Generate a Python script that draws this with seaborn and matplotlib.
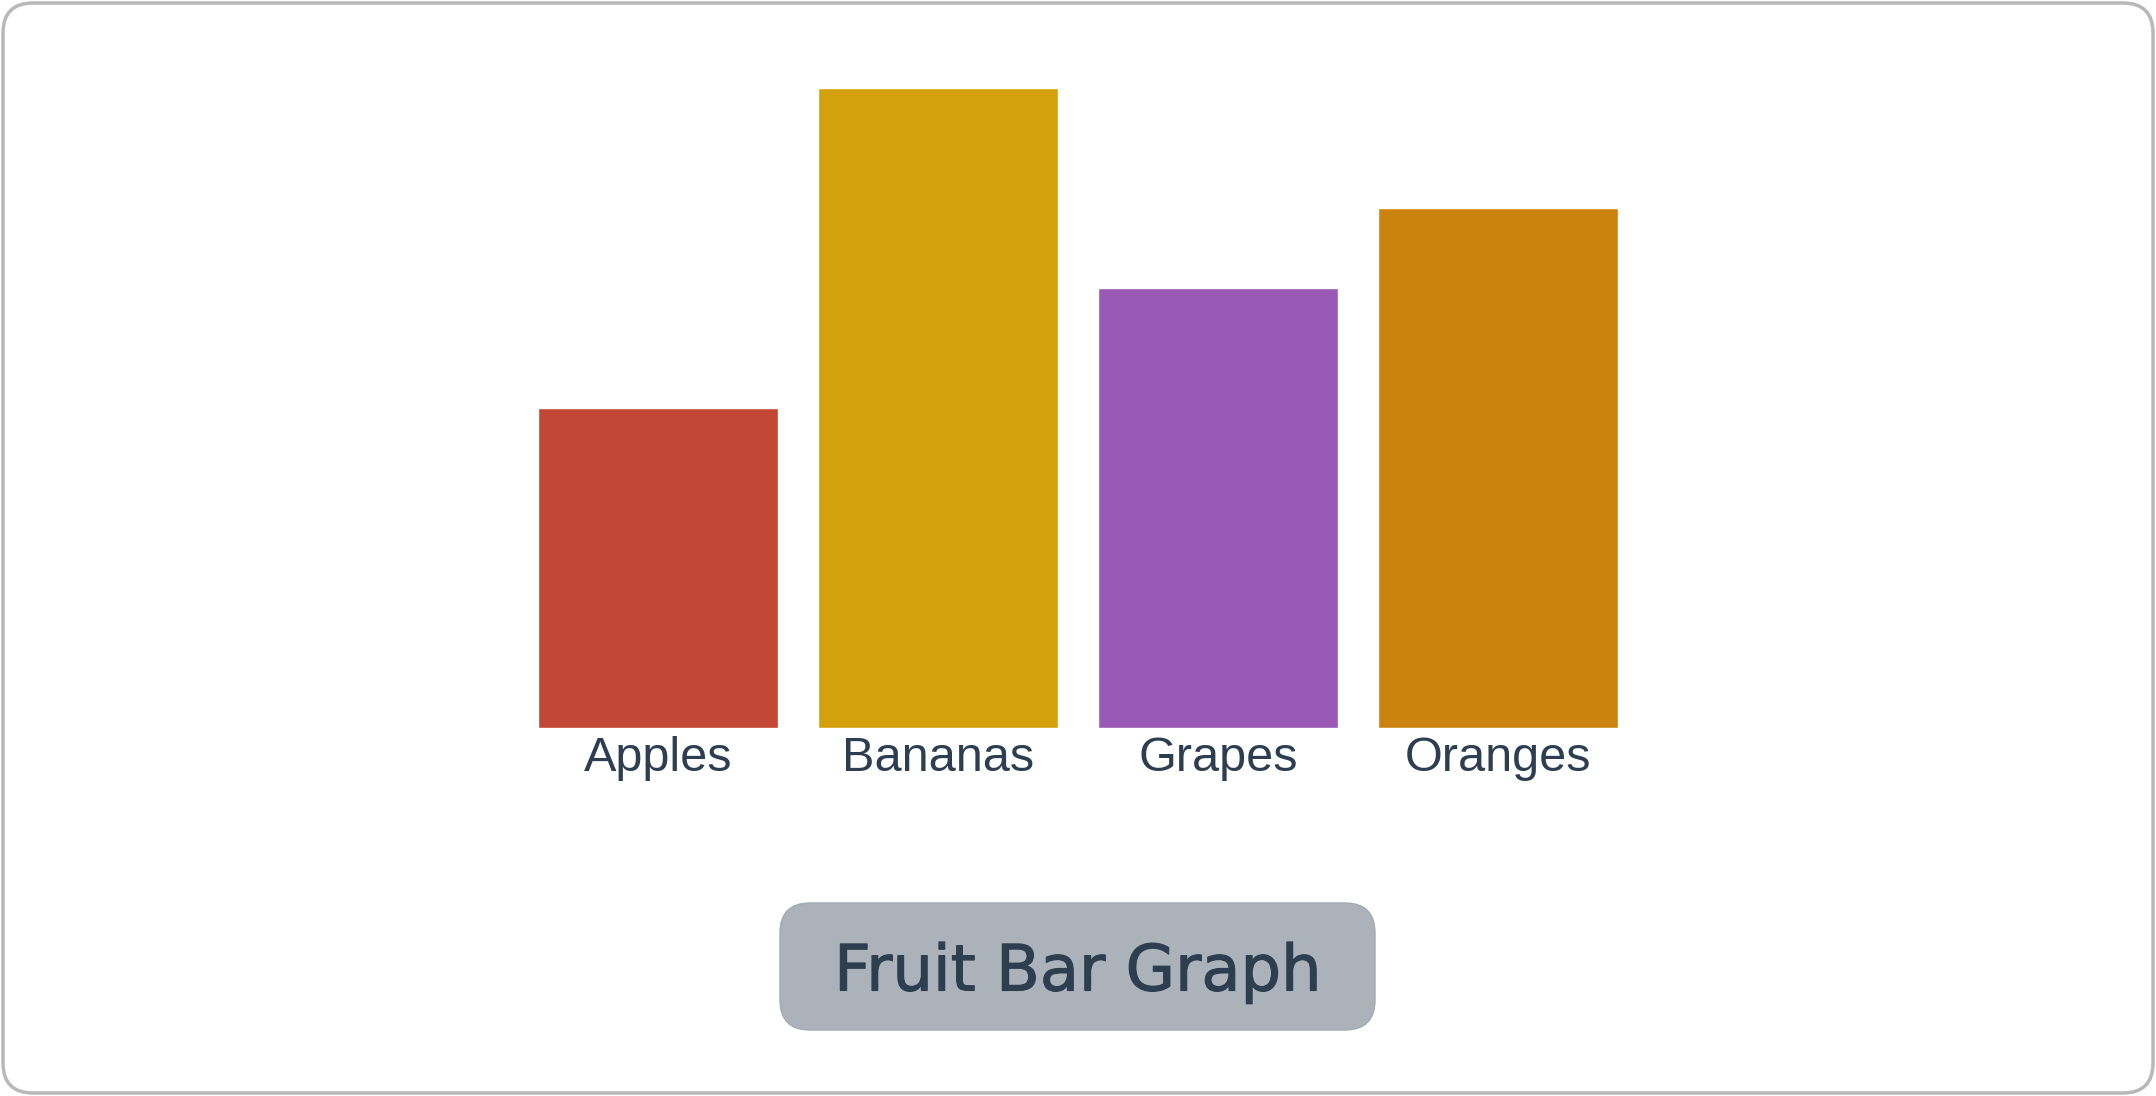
import matplotlib
matplotlib.use("Agg")
import matplotlib.pyplot as plt
import matplotlib.patheffects as pe
import seaborn as sns
import pandas as pd
from matplotlib.patches import FancyBboxPatch

# --------------------------------------------------
# Data
# --------------------------------------------------
fruits = ["Apples", "Bananas", "Grapes", "Oranges"]
counts = [8, 16, 11, 13]
bar_colors = ["#C44634", "#D4A10D", "#9B59B6", "#CC830E"]
title_text = "Fruit Bar Graph"

df = pd.DataFrame({"fruit": fruits, "count": counts})

# --------------------------------------------------
# Figure
# --------------------------------------------------
sns.set_theme(style="white")
plt.rcParams["font.family"] = ["Liberation Sans", "DejaVu Sans"]

W, H = 2156, 1096
fig = plt.figure(figsize=(W / 100, H / 100), dpi=100)
fig.patch.set_facecolor("white")

# background axes in pixel units for the frame and title pill
bg = fig.add_axes([0, 0, 1, 1], zorder=0)
bg.set_xlim(0, W)
bg.set_ylim(H, 0)
bg.axis("off")

frame = FancyBboxPatch((3, 3), W - 6, H - 6,
                       boxstyle="round,pad=0,rounding_size=30",
                       facecolor="white", edgecolor="#B8B8B8", linewidth=2.5)
bg.add_patch(frame)

px0, px1, py0, py1 = 780, 1375, 903, 1030
pill = FancyBboxPatch((px0, py0), px1 - px0, py1 - py0,
                      boxstyle="round,pad=0,rounding_size=30",
                      facecolor="#ABB2B9", edgecolor="#A3AAB2", linewidth=1)
bg.add_patch(pill)
bg.text((px0 + px1) / 2, (py0 + py1) / 2 + 6, title_text,
        ha="center", va="center", fontsize=46, color="#2C3E50",
        family=["DejaVu Sans"],
        path_effects=[pe.withStroke(linewidth=0.8, foreground="#2C3E50")])

# bar chart
ax = fig.add_axes([518 / W, (H - 728) / H, 1120 / W, 640 / H], zorder=1)
sns.barplot(data=df, x="fruit", y="count", hue="fruit", palette=bar_colors,
            width=240 / 280, legend=False, saturation=1, ax=ax)
ax.set_xlim(-0.5, 3.5)
ax.set_ylim(0, 16)
ax.set_facecolor("none")
for s in ax.spines.values():
    s.set_visible(False)
ax.set_yticks([])
ax.set_xlabel("")
ax.set_ylabel("")
ax.tick_params(axis="x", length=0, pad=6, labelsize=35, labelcolor="#2C3E50")

plt.savefig("out.png", dpi=100)
